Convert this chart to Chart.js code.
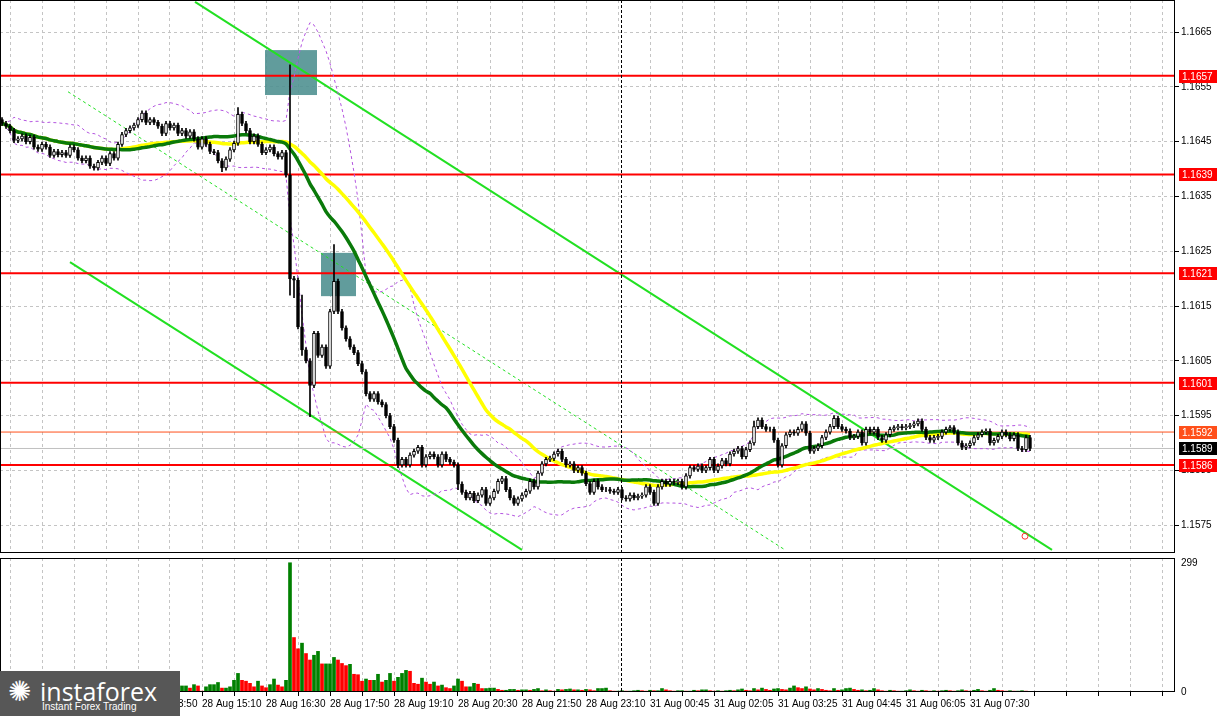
<!DOCTYPE html>
<html>
<head>
<title>EURUSD M5</title>
<script src="https://cdn.jsdelivr.net/npm/chart.js@4.4.0/dist/chart.umd.min.js"></script>
<style>
  body { margin: 0; background: #fff; width: 1218px; height: 716px; overflow: hidden; position: relative; font-family: "Liberation Sans", sans-serif; }
  #priceCanvas { position: absolute; left: 0; top: 0; }
  #volCanvas { position: absolute; left: 0; top: 555px; }
  #logo { position: absolute; left: 0; top: 671px; width: 180px; height: 45px; background: #575757; color: #fff; }
  #logo .big { position: absolute; left: 40px; top: 3px; font-size: 25px; font-family: "Open Sans", sans-serif; }
  #logo .small { position: absolute; left: 42px; top: 30px; font-size: 10px; }
  #logo .mark { position: absolute; left: 8px; top: 6px; font-size: 28px; line-height: 30px; }
</style>
</head>
<body>
<canvas id="priceCanvas" width="1218" height="555"></canvas>
<canvas id="volCanvas" width="1218" height="161"></canvas>
<div id="logo"><span class="mark">✺</span><span class="big">instaforex</span><span class="small">Instant Forex Trading</span></div>

<script>
// ---- data (5 minute candles, 28 Aug 11:00 onward) ----
const firstOpen = 1.16490;
const closes = [
  1.16483,1.16478,1.16470,1.16452,1.16455,1.16460,1.16450,1.16458,1.16440,1.16436,
  1.16445,1.16440,1.16425,1.16432,1.16426,1.16430,1.16425,1.16440,1.16435,1.16420,
  1.16415,1.16420,1.16405,1.16402,1.16412,1.16420,1.16410,1.16428,1.16420,1.16445,
  1.16463,1.16470,1.16475,1.16480,1.16490,1.16502,1.16485,1.16490,1.16485,1.16478,
  1.16465,1.16483,1.16475,1.16480,1.16465,1.16470,1.16460,1.16468,1.16455,1.16440,
  1.16455,1.16445,1.16432,1.16430,1.16415,1.16402,1.16418,1.16435,1.16447,1.16500,
  1.16483,1.16470,1.16450,1.16460,1.16445,1.16430,1.16435,1.16440,1.16428,1.16422,
  1.16430,1.16389,1.16200,1.16197,1.16112,1.16070,1.16050,1.16005,1.16100,1.16060,
  1.16075,1.16040,1.16140,1.16195,1.16140,1.16110,1.16090,1.16075,1.16065,1.16045,
  1.16030,1.15990,1.15980,1.15990,1.15975,1.15970,1.15950,1.15930,1.15905,1.15860,
  1.15870,1.15860,1.15878,1.15885,1.15892,1.15860,1.15875,1.15880,1.15875,1.15860,
  1.15880,1.15870,1.15865,1.15860,1.15825,1.15810,1.15800,1.15808,1.15795,1.15805,
  1.15815,1.15790,1.15800,1.15812,1.15830,1.15835,1.15815,1.15800,1.15790,1.15798,
  1.15805,1.15812,1.15830,1.15820,1.15845,1.15862,1.15870,1.15872,1.15880,1.15885,
  1.15870,1.15860,1.15862,1.15850,1.15855,1.15845,1.15826,1.15810,1.15830,1.15820,
  1.15815,1.15815,1.15812,1.15810,1.15815,1.15800,1.15798,1.15805,1.15800,1.15803,
  1.15805,1.15820,1.15810,1.15790,1.15820,1.15830,1.15825,1.15830,1.15828,1.15830,
  1.15820,1.15840,1.15855,1.15852,1.15858,1.15850,1.15855,1.15870,1.15850,1.15858,
  1.15868,1.15862,1.15880,1.15885,1.15890,1.15875,1.15888,1.15900,1.15930,1.15942,
  1.15930,1.15925,1.15925,1.15905,1.15860,1.15895,1.15915,1.15920,1.15918,1.15925,
  1.15935,1.15918,1.15885,1.15890,1.15895,1.15910,1.15920,1.15930,1.15945,1.15930,
  1.15925,1.15922,1.15910,1.15912,1.15920,1.15900,1.15925,1.15920,1.15925,1.15910,
  1.15905,1.15915,1.15925,1.15928,1.15930,1.15928,1.15930,1.15932,1.15935,1.15940,
  1.15925,1.15910,1.15905,1.15910,1.15912,1.15920,1.15925,1.15928,1.15920,1.15900,
  1.15892,1.15895,1.15900,1.15910,1.15915,1.15920,1.15922,1.15900,1.15905,1.15912,
  1.15920,1.15915,1.15908,1.15915,1.15890,1.15888,1.15910,1.15890
];
// wick extremes where they stick out further than usual
const wickHighs = { 59: 1.16512, 72: 1.16590, 75: 1.16170, 83: 1.16262, 188: 1.15940, 208: 1.15950 };
const wickLows = { 55: 1.16395, 72: 1.16170, 73: 1.16165, 75: 1.16060, 77: 1.15948, 99: 1.15855, 114: 1.15815 };

const volumes = [
  8,6,10,7,5,9,12,6,8,10,7,5,6,9,11,8,6,5,7,10,12,9,8,6,11,13,9,7,10,8,6,12,14,9,7,10,12,
  9,8,11,10,7,12,13,9,
  14,14,9,17,14,2,12,17,17,22,9,9,12,27,43,27,25,20,12,25,14,10,17,30,16,12,27,
  299,126,100,113,89,74,85,94,65,65,65,80,74,66,61,64,41,40,25,30,27,27,41,23,27,43,
  25,34,43,50,48,20,18,32,23,18,23,14,16,10,8,14,30,25,12,12,20,18,8,8,9,9,
  6,4,4,6,6,4,5,5,4,6,8,3,5,3,2,6,5,6,7,5,5,4,6,5,3,8,8,9,3,2,
  2,3,2,2,3,4,3,2,4,3, 3,8,5,3,2,3,3,2,2,4, 3,5,5,3,2,3,2,3,4,3, 5,7,4,3,8,5,9,6,4,7,
  8,6,5,9,14,10,8,12,7,5, 8,6,4,3,8,4,5,8,9,6, 4,5,3,4,8,5,3,2,4,3, 2,2,3,5,3,2,4,3,2,3,
  2,3,4,3,2,3,5,3,2,4, 6,3,2,4,8,4,3,2,3,2, 2,3,2,1
];

const priceTicks = [1.1575,1.1585,1.1595,1.1605,1.1615,1.1625,1.1635,1.1645,1.1655,1.1665];
const timeLabels = ['28 Aug 11:10','28 Aug 12:30','28 Aug 13:50','28 Aug 15:10','28 Aug 16:30','28 Aug 17:50',
  '28 Aug 19:10','28 Aug 20:30','28 Aug 21:50','28 Aug 23:10','31 Aug 00:45','31 Aug 02:05',
  '31 Aug 03:25','31 Aug 04:45','31 Aug 06:05','31 Aug 07:30'];
const levels = [1.1657, 1.1639, 1.1621, 1.1601, 1.1586];
const askLevel = 1.1592;
const bidLevel = 1.1589;
// trend lines: [startIndex, startPrice, endIndex, endPrice]
const channelTop = [48.25, 1.16705, 262.5, 1.15705];
const channelBottom = [17, 1.16230, 130, 1.15705];
const midLine = [16.5, 1.16541, 195.75, 1.15705];
const marker = [255.75, 1.15730];
// highlighted zones: [fromIndex, toIndex, lowPrice, highPrice]
const zones = [[65.75, 78.75, 1.16535, 1.16617], [79.75, 88.5, 1.16168, 1.16247]];
const daySplit = 154.75;

// ---- derived series ----
const opens = closes.map((c, i) => i === 0 ? firstOpen : closes[i - 1]);
const bodies = closes.map((c, i) => ({ x: i, y: [opens[i], c] }));
const wicks = closes.map((c, i) => {
  const hi = wickHighs[i] !== undefined ? wickHighs[i] : Math.max(opens[i], c) + 0.00004;
  const lo = wickLows[i] !== undefined ? wickLows[i] : Math.min(opens[i], c) - 0.00004;
  return { x: i, y: [lo, hi] };
});
function sma(n) {
  return closes.map((c, i) => {
    const s = closes.slice(Math.max(0, i - n + 1), i + 1);
    return { x: i, y: s.reduce((a, b) => a + b, 0) / s.length };
  });
}
function band(n, k) {
  return closes.map((c, i) => {
    const s = closes.slice(Math.max(0, i - n + 1), i + 1);
    const m = s.reduce((a, b) => a + b, 0) / s.length;
    const sd = Math.sqrt(s.reduce((a, b) => a + (b - m) * (b - m), 0) / s.length);
    return { x: i, y: m + k * sd };
  });
}
const XMIN = -0.5, XMAX = 293.25;
const seg = (l) => [{ x: l[0], y: l[1] }, { x: l[2], y: l[3] }];
const flat = (p) => [{ x: XMIN, y: p }, { x: XMAX, y: p }];

const font = { family: 'Liberation Sans', size: 10 };
function noPad(s) { s.paddingLeft = 0; s.paddingRight = 0; s.paddingTop = 0; s.paddingBottom = 0; }

const frame = {
  id: 'frame',
  beforeDatasetsDraw(chart) {
    const { ctx, scales: { x, y } } = chart;
    if (chart.canvas.id === 'priceCanvas') {
      ctx.save();
      ctx.fillStyle = 'rgba(80,145,145,0.9)';
      zones.forEach(z => {
        const x0 = x.getPixelForValue(z[0]), x1 = x.getPixelForValue(z[1]);
        const y0 = y.getPixelForValue(z[3]), y1 = y.getPixelForValue(z[2]);
        ctx.fillRect(x0, y0, x1 - x0, y1 - y0);
      });
      ctx.restore();
    }
  },
  afterDraw(chart) {
    const { ctx, chartArea: a, scales: { x, y } } = chart;
    ctx.save();
    ctx.setLineDash([3, 2]);
    ctx.strokeStyle = '#000';
    const dx = Math.round(x.getPixelForValue(daySplit)) + 0.5;
    ctx.beginPath(); ctx.moveTo(dx, a.top); ctx.lineTo(dx, a.bottom); ctx.stroke();
    ctx.setLineDash([]);
    ctx.lineWidth = 1;
    ctx.strokeRect(a.left + 0.5, a.top + 0.5, a.right - a.left - 1, a.bottom - a.top - 1);
    if (chart.canvas.id === 'priceCanvas') {
      ctx.strokeStyle = '#ff3030';
      ctx.beginPath();
      ctx.arc(x.getPixelForValue(marker[0]), y.getPixelForValue(marker[1]), 3, 0, Math.PI * 2);
      ctx.stroke();
      const tag = (p, bg, fg) => {
        const py = Math.round(y.getPixelForValue(p));
        ctx.fillStyle = bg;
        ctx.fillRect(a.right + 4, py - 6, 38, 13);
        ctx.fillStyle = fg;
        ctx.font = '10px "Liberation Sans"';
        ctx.textBaseline = 'middle';
        ctx.fillText(p.toFixed(4), a.right + 7, py + 1);
      };
      levels.forEach(l => tag(l, '#ff0000', '#fff'));
      tag(askLevel, '#ff4f1a', '#fff');
      tag(bidLevel, '#000', '#fff');
    }
    ctx.restore();
  }
};

const xScale = (showLabels) => ({
  type: 'linear', min: XMIN, max: XMAX, offset: false,
  afterBuildTicks(s) {
    const t = [];
    for (let v = 2; v <= XMAX; v += 8) t.push({ value: v });
    s.ticks = t;
  },
  afterFit(s) { noPad(s); if (!showLabels) s.height = 0; },
  grid: { color: '#c4c4c4', offset: false, drawTicks: showLabels, tickLength: 4, tickColor: '#000' },
  border: { display: false, dash: [3, 3] },
  ticks: {
    display: showLabels, autoSkip: false, maxRotation: 0, align: 'start', padding: 2,
    color: '#000', font,
    callback: (v) => ((v - 2) % 16 === 0 && timeLabels[(v - 2) / 16]) ? timeLabels[(v - 2) / 16] : ''
  }
});

// ---- price chart ----
new Chart(document.getElementById('priceCanvas'), {
  type: 'bar',
  data: {
    datasets: [
      { type: 'bar', data: bodies, order: 0, barThickness: 3, grouped: false, borderWidth: 1, borderSkipped: false,
        borderColor: '#000', backgroundColor: closes.map((c, i) => c >= opens[i] ? '#fff' : '#000') },
      { type: 'bar', data: wicks, order: 1, barThickness: 1, grouped: false, backgroundColor: '#000' },
      { type: 'line', data: sma(30), order: 2, borderColor: '#0a7a0a', borderWidth: 3.5, pointRadius: 0, tension: 0.3 },
      { type: 'line', data: sma(50), order: 3, borderColor: '#ffff00', borderWidth: 3.5, pointRadius: 0, tension: 0.3 },
      { type: 'line', data: band(20, 2), order: 4, borderColor: '#b455e0', borderWidth: 1, borderDash: [3, 3], pointRadius: 0 },
      { type: 'line', data: band(20, -2), order: 4, borderColor: '#b455e0', borderWidth: 1, borderDash: [3, 3], pointRadius: 0 },
      ...levels.map(l => ({ type: 'line', data: flat(l), order: 5, borderColor: '#ff0000', borderWidth: 2, pointRadius: 0 })),
      { type: 'line', data: flat(askLevel), order: 5, borderColor: '#ff4f1a', borderWidth: 1, pointRadius: 0 },
      { type: 'line', data: flat(bidLevel), order: 5, borderColor: '#c0c0c0', borderWidth: 1, pointRadius: 0 },
      { type: 'line', data: seg(channelTop), order: 6, borderColor: '#22e022', borderWidth: 2, pointRadius: 0 },
      { type: 'line', data: seg(channelBottom), order: 6, borderColor: '#22e022', borderWidth: 2, pointRadius: 0 },
      { type: 'line', data: seg(midLine), order: 6, borderColor: '#22e022', borderWidth: 1, borderDash: [3, 3], pointRadius: 0 }
    ]
  },
  options: {
    responsive: false, animation: false, devicePixelRatio: 1,
    layout: { padding: { top: 0, bottom: 2, left: 0, right: 0 } },
    plugins: { legend: { display: false }, tooltip: { enabled: false } },
    scales: {
      x: xScale(false),
      y: {
        position: 'right', min: 1.156993, max: 1.167084,
        afterBuildTicks(s) { s.ticks = priceTicks.map(v => ({ value: v })); },
        afterFit(s) { s.width = 43; noPad(s); },
        grid: { color: '#c4c4c4', tickLength: 4, tickColor: '#000' }, border: { display: false, dash: [3, 3] },
        ticks: { color: '#000', font, padding: 2, callback: (v) => v.toFixed(4) }
      }
    }
  },
  plugins: [frame]
});

// ---- volume chart ----
new Chart(document.getElementById('volCanvas'), {
  type: 'bar',
  data: {
    datasets: [{
      data: volumes.map((v, i) => ({ x: i, y: v })), barThickness: 3,
      backgroundColor: volumes.map((v, i) => (i > 0 && v < volumes[i - 1]) ? '#ff0000' : '#008000')
    }]
  },
  options: {
    responsive: false, animation: false, devicePixelRatio: 1,
    layout: { padding: { top: 3, bottom: 4, left: 0, right: 0 } },
    plugins: { legend: { display: false }, tooltip: { enabled: false } },
    scales: {
      x: xScale(true),
      y: {
        position: 'right', min: 0, max: 310,
        afterBuildTicks(s) { s.ticks = [{ value: 0 }, { value: 299 }]; },
        afterFit(s) { s.width = 43; noPad(s); },
        grid: { display: false, tickLength: 4, tickColor: '#000' },
        border: { display: false },
        ticks: { color: '#000', font, padding: 2 }
      }
    }
  },
  plugins: [frame]
});
</script>
</body>
</html>
